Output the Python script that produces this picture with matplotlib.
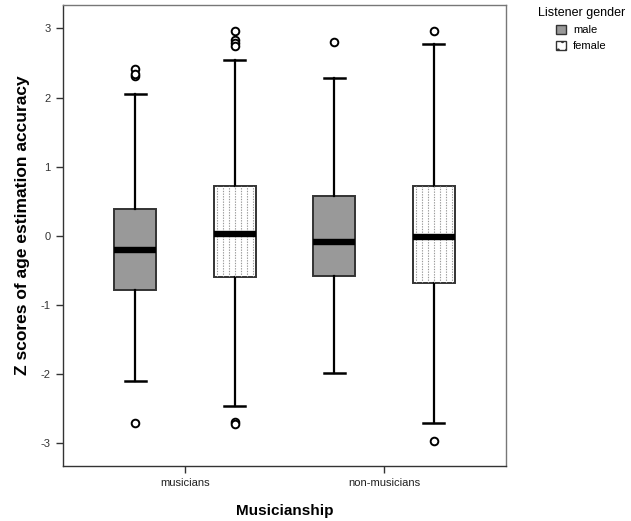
import matplotlib
matplotlib.use("Agg")
import matplotlib.pyplot as plt
from matplotlib.patches import Patch

plt.rcParams['font.family'] = ['Liberation Sans', 'DejaVu Sans']

groups = ["musicians", "non-musicians"]
genders = ["male", "female"]

# per box: [musicians-male, musicians-female, nonmus-male, nonmus-female]
whislo = [-2.10, -2.46, -1.99, -2.71]
q1 = [-0.78, -0.60, -0.58, -0.68]
med = [-0.21, 0.03, -0.09, -0.02]
q3 = [0.39, 0.72, 0.58, 0.72]
whishi = [2.05, 2.54, 2.28, 2.77]
fliers = [
    [2.41, 2.31, 2.34, -2.71],
    [2.97, 2.83, 2.79, 2.75, -2.69, -2.72],
    [2.80],
    [2.97, -2.97],
]

yticks = [-3, -2, -1, 0, 1, 2, 3]

fig = plt.figure(figsize=(6.31, 5.21), dpi=100)
ax = fig.add_axes([0.0998, 0.1056, 0.7021, 0.8848])

offset = 0.251
width = 0.211
positions = []
for gi in range(len(groups)):
    for k in range(len(genders)):
        positions.append(gi + (k - 0.5) * 2 * offset)

stats = []
for i in range(4):
    stats.append(dict(whislo=whislo[i], q1=q1[i], med=med[i], q3=q3[i],
                      whishi=whishi[i], fliers=fliers[i]))

faces = ["#999999", "white"]
bp = ax.bxp(stats, positions=positions, widths=width, capwidths=width * 0.5,
            patch_artist=True, manage_ticks=False,
            boxprops=dict(edgecolor="#333333", linewidth=1.4),
            medianprops=dict(color="black", linewidth=4.6, solid_capstyle="butt"),
            whiskerprops=dict(color="black", linewidth=1.6),
            capprops=dict(color="black", linewidth=1.8),
            flierprops=dict(marker="o", markerfacecolor="white",
                            markeredgecolor="black", markersize=5.5,
                            markeredgewidth=1.4))
for i, b in enumerate(bp["boxes"]):
    b.set_facecolor(faces[i % 2])
    b.set_zorder(2)
    if i % 2 == 1:
        n = 7
        xs = [positions[i] - width / 2 + width * (j + 0.5) / n for j in range(n)]
        lines = ax.vlines(xs, q1[i], q3[i], colors="#999999", linewidths=0.8,
                          linestyles=(0, (1.2, 1.2)), zorder=2.5)
        lines.set_clip_path(b)
for m in bp["medians"]:
    m.set_zorder(4)

ax.set_xlim(-0.613, 1.613)
ax.set_ylim(-3.33, 3.34)
ax.set_yticks(yticks)
ax.set_yticklabels([str(t) for t in yticks], fontsize=8, color="#333333")
ax.set_xticks(range(len(groups)))
ax.set_xticklabels(groups, fontsize=8, color="#222222")
ax.tick_params(axis="both", direction="out", length=5, width=1, color="#333333")
ax.tick_params(axis="y", pad=4)

for s in ["left", "bottom"]:
    ax.spines[s].set_color("#333333")
    ax.spines[s].set_linewidth(1.0)
for s in ["top", "right"]:
    ax.spines[s].set_color("#777777")
    ax.spines[s].set_linewidth(1.0)

ax.set_xlabel("Musicianship", fontsize=11, fontweight="bold", labelpad=12)
ax.set_ylabel("Z scores of age estimation accuracy", fontsize=12.5,
              fontweight="bold")
ax.yaxis.set_label_coords(-0.075, 0.523)

handles = [Patch(facecolor="#999999", edgecolor="#333333", label="male"),
           Patch(facecolor="white", edgecolor="#333333", hatch="..", label="female")]
leg = fig.legend(handles=handles, title="Listener gender", loc="upper left",
                 bbox_to_anchor=(0.845, 0.995), frameon=False, fontsize=8,
                 title_fontsize=9, handlelength=0.9, handleheight=0.9,
                 handletextpad=0.6, labelspacing=0.5, borderaxespad=0)

fig.savefig("out.png", dpi=100)
